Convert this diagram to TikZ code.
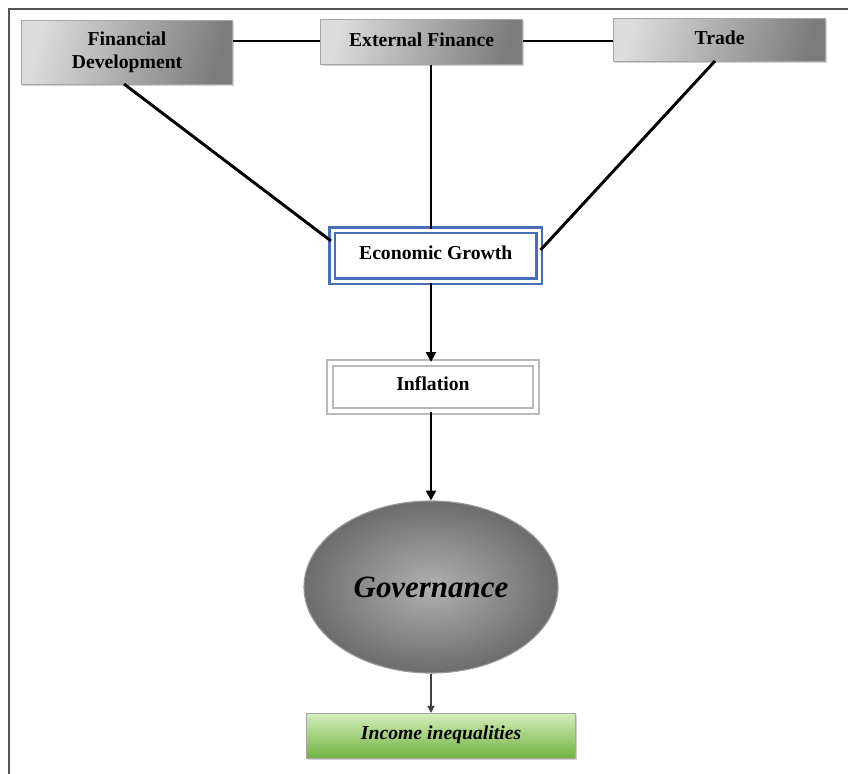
\documentclass[tikz,border=0pt]{standalone}
\usepackage{fontspec}
\setmainfont{Liberation Serif}
\usetikzlibrary{shapes.geometric,arrows.meta,shadows}
\definecolor{frameline}{HTML}{555555}
\definecolor{egblue}{HTML}{4A6DB8}
\definecolor{greenlight}{HTML}{D4EDBA}
\definecolor{greendark}{HTML}{6FB23E}
\definecolor{boxlight}{HTML}{DCDCDC}
\definecolor{boxdark}{HTML}{7C7C7C}
\definecolor{govinner}{HTML}{B0B0B0}
\definecolor{govouter}{HTML}{6C6C6C}
\tikzset{
  topbox/.style={draw=gray!70, line width=0.8pt, left color=boxlight, right color=boxdark,
    shading angle=75,
    minimum height=#1, font=\bfseries\fontsize{14}{15}\selectfont, align=center,
    drop shadow={opacity=0.35, shadow xshift=1.2pt, shadow yshift=-1.2pt}},
  link/.style={line width=2.1pt, black},
  flow/.style={line width=2.1pt, black, -{Triangle[length=7pt,width=7pt]}},
}
\begin{document}
\begin{tikzpicture}[x=0.025cm, y=-0.025cm]
\useasboundingbox (0,0) rectangle (848,774);
\fill[white] (0,0) rectangle (848,774);
% outer frame: left and top rules
\draw[frameline, line width=1.8pt] (9,774) -- (9,9) -- (848,9);

% top row
\node[topbox=64*0.025cm, minimum width=211*0.025cm, anchor=north west] (fd) at (21,20)
  {\raisebox{4pt}{\begin{tabular}{@{}c@{}}Financial\\[1.5pt]Development\end{tabular}}};
\node[topbox=45*0.025cm, minimum width=202*0.025cm, anchor=north west] (ef) at (320,19)
  {\raisebox{4pt}{External Finance}};
\node[topbox=43*0.025cm, minimum width=212*0.025cm, anchor=north west] (tr) at (613,18)
  {\raisebox{4pt}{Trade}};

% middle column
\node[draw=egblue, line width=1.8pt, double=white, double distance=2.2pt, fill=white,
  minimum width=207*0.025cm, minimum height=51*0.025cm, anchor=north west,
  font=\bfseries\fontsize{14}{16}\selectfont] (eg) at (331,229)
  {\raisebox{5pt}{Economic Growth}};
\node[draw=gray!55, line width=1.4pt, double=white, double distance=2.2pt, fill=white,
  minimum width=206*0.025cm, minimum height=48*0.025cm, anchor=north west,
  font=\bfseries\fontsize{14}{16}\selectfont] (inf) at (329,362)
  {\raisebox{5pt}{Inflation}};

\node[ellipse, draw=gray!80, line width=0.8pt, inner color=govinner, outer color=govouter,
  minimum width=254*0.025cm, minimum height=172*0.025cm,
  font=\bfseries\itshape\fontsize{22}{24}\selectfont] (gov) at (431,587) {Governance};

\node[draw=gray!70, line width=0.8pt, top color=greenlight, bottom color=greendark,
  minimum width=269*0.025cm, minimum height=45*0.025cm, anchor=north west,
  font=\bfseries\itshape\fontsize{14}{16}\selectfont,
  drop shadow={opacity=0.35, shadow xshift=1.2pt, shadow yshift=-1.2pt}] (inc) at (306,713)
  {\raisebox{5pt}{Income inequalities}};

% links between the top boxes
\draw[link] (fd.east |- 0,41) -- (ef.west |- 0,41);
\draw[link] (ef.east |- 0,41) -- (tr.west |- 0,41);
% links into growth
\coordinate (fdfoot) at (124,84);
\coordinate (trfoot) at (715,61);
\coordinate (spine) at (431,0);
\draw[link] (fdfoot) -- (eg.west |- 0,241);
\draw[link] (spine |- ef.south) -- (spine |- eg.north);
\draw[link] (trfoot) -- (eg.east |- 0,250);
% downward flow
\draw[flow] (spine |- eg.south) -- (spine |- inf.north);
\draw[flow] (spine |- inf.south) -- (gov.north);
\draw[line width=0.9pt, gray!50!black, -{Triangle[length=5pt,width=5pt]}] (gov.south) -- (gov.south |- inc.north);
\end{tikzpicture}
\end{document}
